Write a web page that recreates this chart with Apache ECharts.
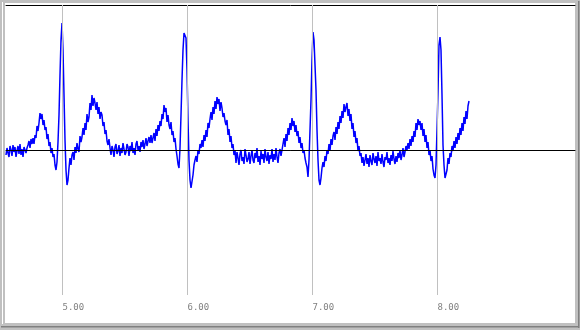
<!DOCTYPE html>
<html><head><meta charset="utf-8">
<script src="https://cdn.jsdelivr.net/npm/echarts@6/dist/echarts.min.js"></script>
<style>html,body{margin:0;padding:0;background:#c0c0c0}#c{width:580px;height:330px}</style>
</head><body><div id="c"></div><script>
// sampling of the trace (seconds)
const sampleStart = 4.548;
const sampleStep = 0.008;
// voltage samples, in consecutive segments
const baseline0 = [-0.05,0.02,-0.03,-0.07,0.04,0.00,-0.06,0.05,-0.02,0.03,-0.07,-0.01,0.04,-0.04,0.06,-0.05,0.01,-0.07,0.03,0.05,-0.03,0.02,0.05,0.09,0.02,0.11,0.06,0.12];
const pWave1 = [0.06,0.15,0.12,0.24,0.19,0.27,0.37,0.31,0.36,0.25,0.30,0.20,0.23,0.11,0.16,0.04,0.08,-0.03,0.02,-0.07,-0.04,-0.15,-0.20];
const qrs1 = [-0.12,0.08,0.35,0.75,1.10,1.27,1.00,0.55,0.10,-0.20,-0.35,-0.30,-0.18];
const tWave1 = [-0.08,-0.15,-0.05,-0.02,-0.10,0.03,-0.03,0.07,0.01,-0.02,0.14,0.08,0.13,0.22,0.15,0.27,0.20,0.36,0.28,0.33,0.47,0.40,0.55,0.44,0.52,0.47,0.40,0.48,0.36,0.43,0.31,0.38,0.35,0.24,0.28,0.16,0.20,0.09,0.05,0.11,0.02];
const baseline1 = [-0.05,0.04,0.00,-0.07,0.03,0.06,-0.04,-0.01,0.05,-0.06,0.02,-0.03,0.07,0.01,-0.05,-0.02,0.06,0.03,-0.06,0.04,-0.01,0.08,-0.03,0.02,-0.05,0.06,0.09,0.00,0.04,-0.02,0.08,0.03,0.10,0.01,0.06,0.12,0.04,0.09,0.13,0.07];
const pWave2 = [0.15,0.07,0.12,0.17,0.09,0.21,0.14,0.25,0.19,0.29,0.24,0.36,0.31,0.45,0.38,0.42,0.28,0.35,0.25,0.21,0.28,0.15,0.19,0.08,0.12,0.01,-0.06,-0.14,-0.18];
const qrs2 = [0.02,0.35,0.70,1.00,1.17,1.19,1.12,0.80,0.30,-0.10,-0.30,-0.38,-0.36,-0.25];
const tWave2 = [-0.15,-0.10,-0.06,-0.12,0.00,-0.04,0.06,0.02,0.10,0.03,0.15,0.09,0.20,0.13,0.27,0.22,0.31,0.38,0.30,0.43,0.36,0.49,0.41,0.53,0.46,0.51,0.39,0.48,0.42,0.33,0.37,0.29,0.25,0.30,0.15,0.21,0.08,0.14,0.02,0.06,-0.05,0.00];
const baseline2 = [-0.13,-0.02,-0.08,-0.15,-0.04,0.00,-0.11,-0.07,-0.14,0.01,-0.05,-0.12,-0.09,-0.02,-0.14,-0.06,0.00,-0.10,-0.13,-0.03,-0.08,0.02,-0.12,-0.06,-0.15,-0.01,-0.09,-0.04,-0.13,0.01,-0.07,-0.11,-0.02,-0.14,-0.05,-0.09,0.01,-0.12,-0.04,-0.10,0.02,-0.07,-0.13,-0.03,0.01,-0.06,0.00];
const pWave3 = [0.06,0.12,0.03,0.16,0.09,0.22,0.15,0.27,0.20,0.32,0.24,0.29,0.18,0.25,0.14,0.19,0.07,0.13,0.02,0.07,-0.03,0.00,-0.08,-0.13,-0.17,-0.27,-0.10];
const qrs3 = [0.20,0.50,0.90,1.18,1.10,0.85,0.60,0.20,-0.10,-0.30,-0.35,-0.28,-0.18];
const tWave3 = [-0.12,-0.17,-0.06,-0.11,0.00,-0.04,0.06,-0.01,0.11,0.05,0.14,0.18,0.10,0.23,0.16,0.28,0.21,0.34,0.27,0.39,0.32,0.46,0.38,0.43,0.47,0.34,0.41,0.29,0.36,0.21,0.27,0.13,0.19,0.07,0.12,-0.01,0.04,-0.06];
const baseline3 = [-0.03,-0.13,-0.07,-0.16,-0.10,-0.04,-0.14,-0.08,-0.17,-0.05,-0.11,-0.15,-0.03,-0.09,-0.13,-0.06,-0.16,-0.02,-0.11,-0.08,-0.14,-0.04,-0.12,-0.17,-0.07,-0.10,-0.02,-0.13,-0.08,-0.15,-0.05,-0.11,-0.01,-0.09,-0.14,-0.06,-0.12,-0.03,-0.08,0.00,-0.10,-0.05,0.02,-0.07,-0.02,0.04];
const pWave4 = [0.00,0.07,0.01,0.11,0.04,0.14,0.08,0.19,0.13,0.27,0.20,0.31,0.25,0.29,0.20,0.27,0.14,0.21,0.08,0.15,0.02,0.08,-0.05,0.00,-0.11,-0.06,-0.19,-0.25,-0.28];
const qrs4 = [-0.15,0.20,0.58,1.05,1.13,1.00,0.55,0.05,-0.15,-0.28,-0.30,-0.20];
const tWave4 = [-0.08,-0.14,-0.03,-0.07,0.04,-0.01,0.09,0.02,0.13,0.06,0.17,0.10,0.22,0.15,0.27,0.19,0.33,0.26,0.39,0.31,0.44,0.49];

const tickValues = [5, 6, 7, 8];
const tickLabels = ['5.00', '6.00', '7.00', '8.00'];
const xMin = 4.548, xMax = 9.1, yMin = -1.45, yMax = 1.45;

const voltage = [].concat(baseline0, pWave1, qrs1, tWave1, baseline1, pWave2, qrs2, tWave2,
  baseline2, pWave3, qrs3, tWave3, baseline3, pWave4, qrs4, tWave4);
const points = voltage.map((v, i) => [sampleStart + i * sampleStep, v]);

const chart = echarts.init(document.getElementById('c'), null, {renderer: 'canvas'});
chart.setOption({
  animation: false,
  backgroundColor: '#c0c0c0',
  graphic: [
    {type: 'rect', z: -10, shape: {x: 2, y: 2, width: 1, height: 322}, style: {fill: '#ffffff'}, silent: true},
    {type: 'rect', z: -10, shape: {x: 5, y: 3, width: 570, height: 320}, style: {fill: '#ffffff'}, silent: true},
    {type: 'rect', z: -10, shape: {x: 578, y: 1, width: 1.5, height: 327}, style: {fill: '#808080'}, silent: true},
    {type: 'rect', z: -10, shape: {x: 1, y: 326, width: 578, height: 1.5}, style: {fill: '#808080'}, silent: true}
  ],
  grid: {left: 6, right: 5, top: 5, bottom: 35},
  xAxis: [{
    type: 'value', min: xMin, max: xMax, position: 'bottom',
    axisLine: {show: true, lineStyle: {color: '#000', width: 1}},
    axisTick: {show: false},
    splitLine: {show: false},
    axisLabel: {
      show: true, customValues: tickValues, margin: 8, align: 'left',
      color: '#808080', fontSize: 9, fontFamily: 'DejaVu Sans Mono',
      formatter: v => { const k = tickValues.indexOf(Math.round(v * 100) / 100); return k >= 0 ? tickLabels[k] : ''; }
    }
  }, {
    type: 'value', min: xMin, max: xMax, position: 'top',
    axisLine: {show: true, onZero: false, lineStyle: {color: '#000', width: 1}},
    axisTick: {show: false}, axisLabel: {show: false}, splitLine: {show: false}
  }],
  yAxis: {
    type: 'value', min: yMin, max: yMax,
    axisLine: {show: false}, axisTick: {show: false}, axisLabel: {show: false}, splitLine: {show: false}
  },
  series: [{
    type: 'line', data: [], z: 1, silent: true,
    markLine: {
      silent: true, symbol: 'none', label: {show: false}, animation: false,
      data: tickValues.map(v => ({xAxis: v, lineStyle: {color: '#c0c0c0', width: 1, type: 'solid'}}))
        .concat([{yAxis: 0, lineStyle: {color: '#000', width: 1, type: 'solid'}}])
    }
  }, {
    type: 'line', data: points, z: 3, showSymbol: false, symbol: 'none',
    lineStyle: {color: '#0000ff', width: 1.5}, silent: true
  }]
});
</script></body></html>
